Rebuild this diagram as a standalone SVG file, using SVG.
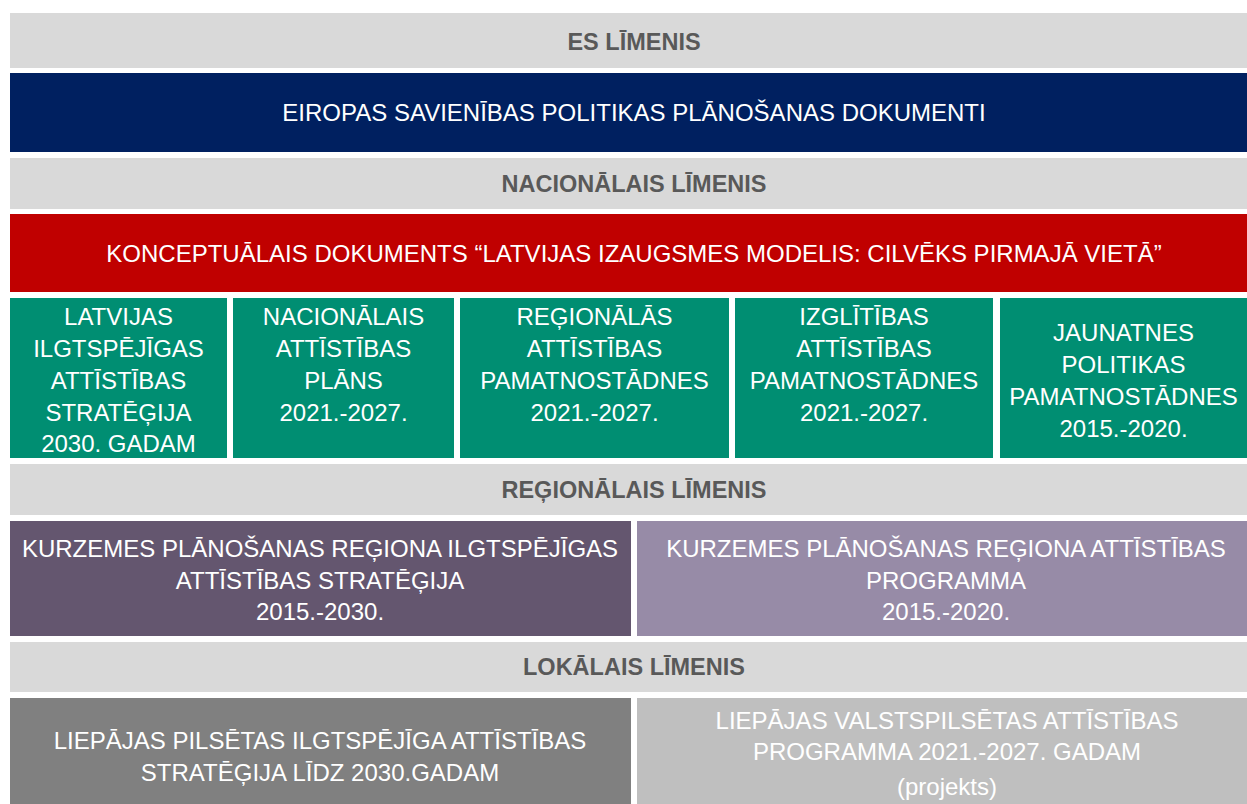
<svg xmlns="http://www.w3.org/2000/svg" width="1247" height="804" viewBox="0 0 1247 804">
<style>
text{font-family:"Liberation Sans",Arial,sans-serif;text-anchor:middle;}
.hdr{fill:#D9D9D9;}
.ht{font-size:23.5px;font-weight:bold;fill:#595959;}
.wt{font-size:24px;fill:#FFFFFF;}
.green{fill:#008E72;}
</style>
<rect width="1247" height="804" fill="#FFFFFF"/>
<g id="es-level"><rect class="hdr" x="10" y="13" width="1237" height="55"/><text class="ht" x="634" y="50">ES LĪMENIS</text></g>
<g id="eu-docs"><rect x="10" y="73" width="1237" height="79" fill="#002060"/><text class="wt" x="634" y="121">EIROPAS SAVIENĪBAS POLITIKAS PLĀNOŠANAS DOKUMENTI</text></g>
<g id="national-level"><rect class="hdr" x="10" y="158" width="1237" height="51"/><text class="ht" x="634" y="192">NACIONĀLAIS LĪMENIS</text></g>
<g id="concept"><rect x="10" y="214" width="1237" height="78" fill="#C00000"/><text class="wt" x="634" y="262">KONCEPTUĀLAIS DOKUMENTS “LATVIJAS IZAUGSMES MODELIS: CILVĒKS PIRMAJĀ VIETĀ”</text></g>
<g id="strategy2030"><rect class="green" x="10" y="298" width="217" height="160"/><text class="wt" x="118.5" y="325">LATVIJAS<tspan x="118.5" dy="32">ILGTSPĒJĪGAS</tspan><tspan x="118.5" dy="32">ATTĪSTĪBAS</tspan><tspan x="118.5" dy="32">STRATĒĢIJA</tspan><tspan x="118.5" dy="31">2030. GADAM</tspan></text></g>
<g id="nap"><rect class="green" x="233" y="298" width="221" height="160"/><text class="wt" x="343.5" y="325">NACIONĀLAIS<tspan x="343.5" dy="32">ATTĪSTĪBAS</tspan><tspan x="343.5" dy="32">PLĀNS</tspan><tspan x="343.5" dy="32">2021.-2027.</tspan></text></g>
<g id="regional-guidelines"><rect class="green" x="460" y="298" width="269" height="160"/><text class="wt" x="594.5" y="325">REĢIONĀLĀS<tspan x="594.5" dy="32">ATTĪSTĪBAS</tspan><tspan x="594.5" dy="32">PAMATNOSTĀDNES</tspan><tspan x="594.5" dy="32">2021.-2027.</tspan></text></g>
<g id="education-guidelines"><rect class="green" x="735" y="298" width="258" height="160"/><text class="wt" x="864" y="325">IZGLĪTĪBAS<tspan x="864" dy="32">ATTĪSTĪBAS</tspan><tspan x="864" dy="32">PAMATNOSTĀDNES</tspan><tspan x="864" dy="32">2021.-2027.</tspan></text></g>
<g id="youth-guidelines"><rect class="green" x="1000" y="298" width="247" height="160"/><text class="wt" x="1123.5" y="341">JAUNATNES<tspan x="1123.5" dy="32">POLITIKAS</tspan><tspan x="1123.5" dy="32">PAMATNOSTĀDNES</tspan><tspan x="1123.5" dy="32">2015.-2020.</tspan></text></g>
<g id="regional-level"><rect class="hdr" x="10" y="464" width="1237" height="51"/><text class="ht" x="634" y="498">REĢIONĀLAIS LĪMENIS</text></g>
<g id="kurzeme-strategy"><rect x="10" y="521" width="621" height="115" fill="#64566F"/><text class="wt" x="320" y="557">KURZEMES PLĀNOŠANAS REĢIONA ILGTSPĒJĪGAS<tspan x="320" dy="32">ATTĪSTĪBAS STRATĒĢIJA</tspan><tspan x="320" dy="31">2015.-2030.</tspan></text></g>
<g id="kurzeme-programme"><rect x="637" y="521" width="610" height="115" fill="#978BA7"/><text class="wt" x="946" y="557">KURZEMES PLĀNOŠANAS REĢIONA ATTĪSTĪBAS<tspan x="946" dy="32">PROGRAMMA</tspan><tspan x="946" dy="31">2015.-2020.</tspan></text></g>
<g id="local-level"><rect class="hdr" x="10" y="642" width="1237" height="50"/><text class="ht" x="634" y="675">LOKĀLAIS LĪMENIS</text></g>
<g id="liepaja-strategy"><rect x="10" y="698" width="621" height="106" fill="#808080"/><text class="wt" x="320" y="749">LIEPĀJAS PILSĒTAS ILGTSPĒJĪGA ATTĪSTĪBAS<tspan x="320" dy="32">STRATĒĢIJA LĪDZ 2030.GADAM</tspan></text></g>
<g id="liepaja-programme"><rect x="637" y="698" width="610" height="106" fill="#BFBFBF"/><text class="wt" x="947" y="729">LIEPĀJAS VALSTSPILSĒTAS ATTĪSTĪBAS<tspan x="947" dy="31">PROGRAMMA 2021.-2027. GADAM</tspan><tspan x="947" dy="35">(projekts)</tspan></text></g>
<g id="connectors"></g>
</svg>
